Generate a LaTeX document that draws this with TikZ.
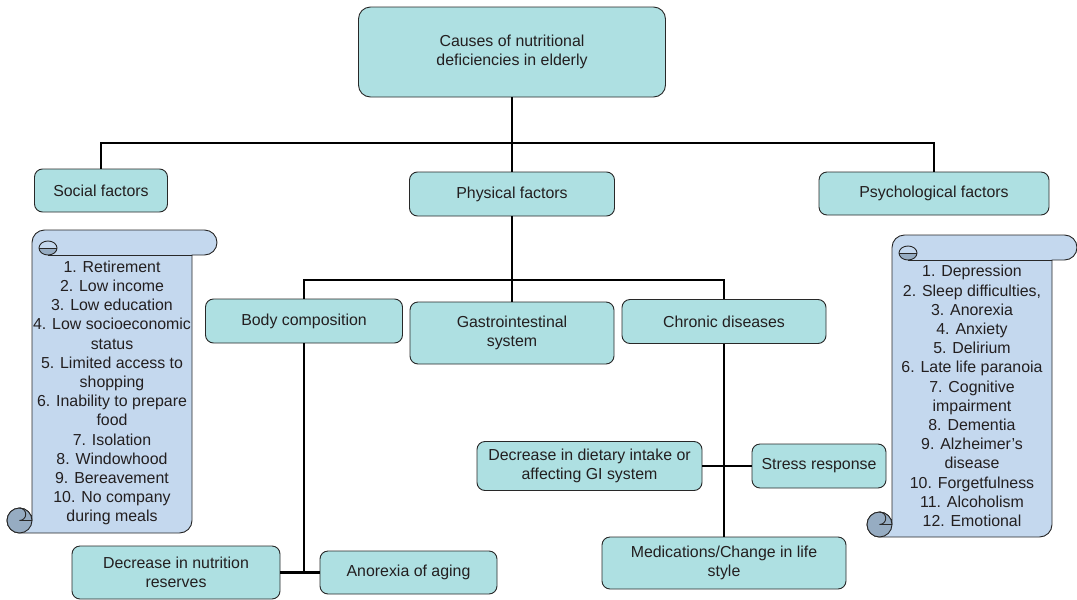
\documentclass[tikz,border=0pt]{standalone}
\usepackage{fontspec}
\setmainfont{Liberation Sans}
\definecolor{boxfill}{RGB}{174,224,226}
\definecolor{scrollfill}{RGB}{196,216,238}
\definecolor{curlfill}{RGB}{150,172,194}
\definecolor{txt}{RGB}{35,31,32}
\definecolor{edge}{RGB}{40,40,40}
% xL xR yT yB (r = 12.5)
\newcommand\myscroll[4]{%
  \path[draw=edge, fill=scrollfill, line width=0.9pt]
    ({#1+12.5},#3) -- ({#2+12.5},#3) arc[start angle=90,end angle=-90,radius=12.5pt]
    -- (#2,{#3+25}) -- (#2,{#4-12.5}) arc[start angle=0,end angle=-90,radius=12.5pt]
    -- ({#1-12.5},#4) arc[start angle=-90,end angle=-270,radius=12.5pt]
    arc[start angle=90,end angle=0,radius=12.5pt]
    -- (#1,{#3+12.5}) arc[start angle=180,end angle=90,radius=12.5pt] -- cycle;
  \draw[edge, fill=curlfill, line width=0.9pt] ({#1-12.5},{#4-12.5}) circle[radius=12.5pt];
  \draw[edge, line width=0.9pt] ({#1-12.5},{#4-25}) arc[start angle=90,end angle=-90,radius=6.25pt] -- (#1,{#4-12.5});
  \fill[curlfill] ({#1+7},{#3+18}) arc[start angle=180,end angle=360,x radius=9pt,y radius=7pt] -- cycle;
  \draw[edge, line width=0.9pt] ({#1+16},{#3+18}) ellipse[x radius=9pt,y radius=7pt];
  \draw[edge, line width=0.9pt] ({#1+7},{#3+18}) -- ({#1+25},{#3+18});
  \draw[edge, line width=0.9pt] ({#1+16},{#3+25}) -- (#2,{#3+25});
}
\begin{document}
\begin{tikzpicture}[x=1pt,y=-1pt,
  font=\fontsize{15.9}{19.2}\selectfont, text=txt,
  box/.style={draw=edge, line width=0.9pt, fill=boxfill, rounded corners=8pt, align=center, inner sep=0pt},
  conn/.style={line width=2.8pt, black}]
\useasboundingbox (0,0) rectangle (1077,600);

% scrolls
\myscroll{32}{192}{230}{533}
\myscroll{892}{1052}{235}{537}
\node[align=center] (soclist) at (112,393) {1. Retirement\\2. Low income\\3. Low education\\4. Low socioeconomic\\status\\5. Limited access to\\shopping\\6. Inability to prepare\\food\\7. Isolation\\8. Windowhood\\9. Bereavement\\10. No company\\during meals};
\node[align=center] (psylist) at (972,396) {1. Depression\\2. Sleep difficulties,\\3. Anorexia\\4. Anxiety\\5. Delirium\\6. Late life paranoia\\7. Cognitive\\impairment\\8. Dementia\\9. Alzheimer’s\\disease\\10. Forgetfulness\\11. Alcoholism\\12. Emotional};

% boxes
\node[box, rounded corners=12pt, minimum width=307pt, minimum height=90pt] (top) at (512,52) {Causes of nutritional\\deficiencies in elderly};
\node[box, minimum width=133pt, minimum height=43pt] (social) at (101,190.5) {Social factors};
\node[box, minimum width=205pt, minimum height=44pt] (phys) at (512,194) {Physical factors};
\node[box, minimum width=230pt, minimum height=43pt] (psych) at (934,193.5) {Psychological factors};
\node[box, minimum width=197pt, minimum height=44pt] (body) at (304,321) {Body composition};
\node[box, minimum width=204pt, minimum height=62pt] (gastro) at (512,333) {Gastrointestinal\\system};
\node[box, minimum width=204pt, minimum height=44pt] (chronic) at (724,321.5) {Chronic diseases};
\node[box, minimum width=225pt, minimum height=49pt] (diet) at (589.5,466) {Decrease in dietary intake or\\affecting GI system};
\node[box, minimum width=134pt, minimum height=44pt] (stress) at (819,466) {Stress response};
\node[box, minimum width=244pt, minimum height=52pt] (med) at (724,563) {Medications/Change in life\\style};
\node[box, minimum width=208pt, minimum height=53pt] (nutr) at (176,572.5) {Decrease in nutrition\\reserves};
\node[box, minimum width=177pt, minimum height=43pt] (anor) at (408.5,572.5) {Anorexia of aging};

% junctions
\coordinate (jt) at (512,143);
\coordinate (jp) at (512,280);

% connectors
\draw[conn] (top.south) -- (phys.north);
\draw[conn] (social.north) |- (jt) -| (psych.north);
\draw[conn] (phys.south) -- (jp);
\draw[conn] (body.north) |- (jp) -| (chronic.north);
\draw[conn] (jp) -- (gastro.north);
\draw[conn] (body.south) -- (body.south |- nutr.east);
\draw[conn] (nutr.east) -- (anor.west);
\draw[conn] (chronic.south) -- (med.north);
\draw[conn] (diet.east) -- (stress.west);
\end{tikzpicture}
\end{document}
